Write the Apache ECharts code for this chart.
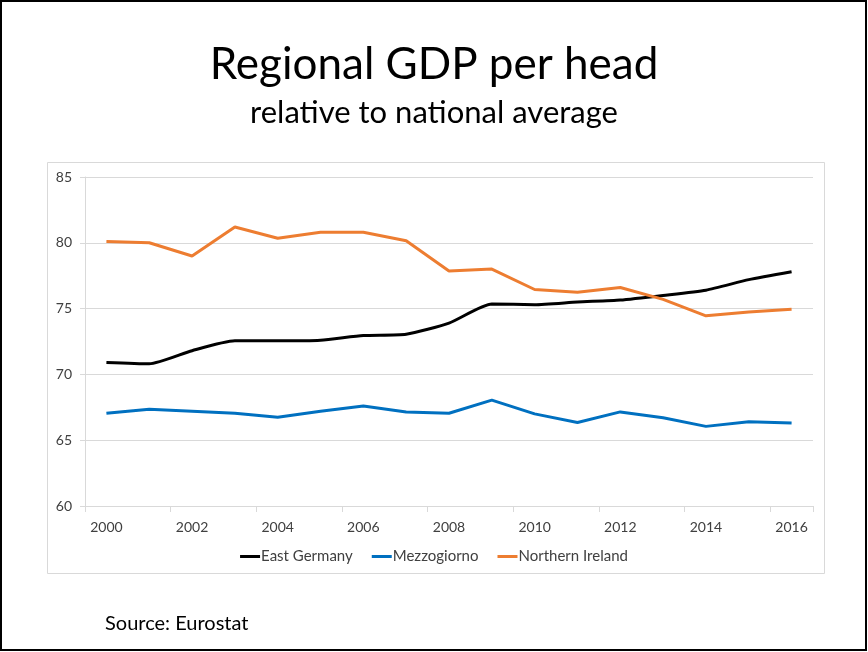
<!DOCTYPE html>
<html>
<head>
<meta charset="utf-8">
<script src="https://cdn.jsdelivr.net/npm/echarts@6/dist/echarts.min.js"></script>
<style>
html,body{margin:0;padding:0;background:#fff;}
#chart{width:868px;height:652px;}
</style>
</head>
<body>
<div id="chart"></div>
<script>
var years = ['2000','2001','2002','2003','2004','2005','2006','2007','2008','2009','2010','2011','2012','2013','2014','2015','2016'];
var eastGermany = [70.9, 70.8, 71.8, 72.55, 72.55, 72.6, 72.95, 73.05, 73.9, 75.35, 75.3, 75.5, 75.65, 76.0, 76.4, 77.2, 77.8];
var mezzogiorno = [67.05, 67.35, 67.2, 67.05, 66.75, 67.2, 67.6, 67.15, 67.05, 68.05, 67.0, 66.35, 67.15, 66.7, 66.05, 66.4, 66.3];
var northernIreland = [80.1, 80.0, 79.0, 81.2, 80.35, 80.8, 80.8, 80.15, 77.85, 78.0, 76.45, 76.25, 76.6, 75.7, 74.45, 74.75, 74.95];
var yTicks = {min: 60, max: 85, interval: 5};

var chart = echarts.init(document.getElementById('chart'), null, {renderer: 'canvas'});
var font = 'Lato, "Open Sans", sans-serif';
chart.setOption({
  animation: false,
  backgroundColor: '#ffffff',
  graphic: [
    {type: 'rect', shape: {x: 1, y: 1, width: 865, height: 649}, style: {fill: 'none', stroke: '#000', lineWidth: 2}, z: 100},
    {type: 'rect', shape: {x: 47.5, y: 162.5, width: 777, height: 411}, style: {fill: 'none', stroke: '#d9d9d9', lineWidth: 1}},
    {type: 'text', left: 'center', top: 43, style: {text: 'Regional GDP per head', font: '44px ' + font, fill: '#000'}},
    {type: 'text', left: 'center', top: 97, style: {text: 'relative to national average', font: '31px ' + font, fill: '#000'}},
    {type: 'text', left: 105, top: 614, style: {text: 'Source: Eurostat', font: '20px ' + font, fill: '#000'}}
  ],
  grid: {left: 85, right: 55, top: 177, bottom: 146, containLabel: false},
  legend: {
    bottom: 83, left: 'center', itemWidth: 20, itemHeight: 3, itemGap: 19,
    icon: 'rect',
    textStyle: {fontFamily: font, fontSize: 15, color: '#404040', padding: [0, 0, 0, -4]},
    data: ['East Germany', 'Mezzogiorno', 'Northern Ireland']
  },
  xAxis: {
    type: 'category', data: years, boundaryGap: true,
    axisLine: {lineStyle: {color: '#d9d9d9', width: 1}},
    axisTick: {show: true, length: 6, lineStyle: {color: '#d9d9d9'}},
    axisLabel: {interval: 1, fontFamily: font, fontSize: 14, color: '#404040', margin: 14}
  },
  yAxis: {
    type: 'value', min: yTicks.min, max: yTicks.max, interval: yTicks.interval,
    axisLine: {show: true, lineStyle: {color: '#d9d9d9'}},
    axisTick: {show: true, length: 5, lineStyle: {color: '#d9d9d9'}},
    splitLine: {lineStyle: {color: '#d9d9d9', width: 1}},
    axisLabel: {fontFamily: font, fontSize: 14, color: '#404040', margin: 13}
  },
  series: [
    {name: 'East Germany', type: 'line', data: eastGermany, showSymbol: false, smooth: 0.2, lineStyle: {color: '#000000', width: 3}, itemStyle: {color: '#000000'}},
    {name: 'Mezzogiorno', type: 'line', data: mezzogiorno, showSymbol: false, lineStyle: {color: '#0070c0', width: 3}, itemStyle: {color: '#0070c0'}},
    {name: 'Northern Ireland', type: 'line', data: northernIreland, showSymbol: false, lineStyle: {color: '#ed7d31', width: 3}, itemStyle: {color: '#ed7d31'}}
  ]
});
</script>
</body>
</html>
